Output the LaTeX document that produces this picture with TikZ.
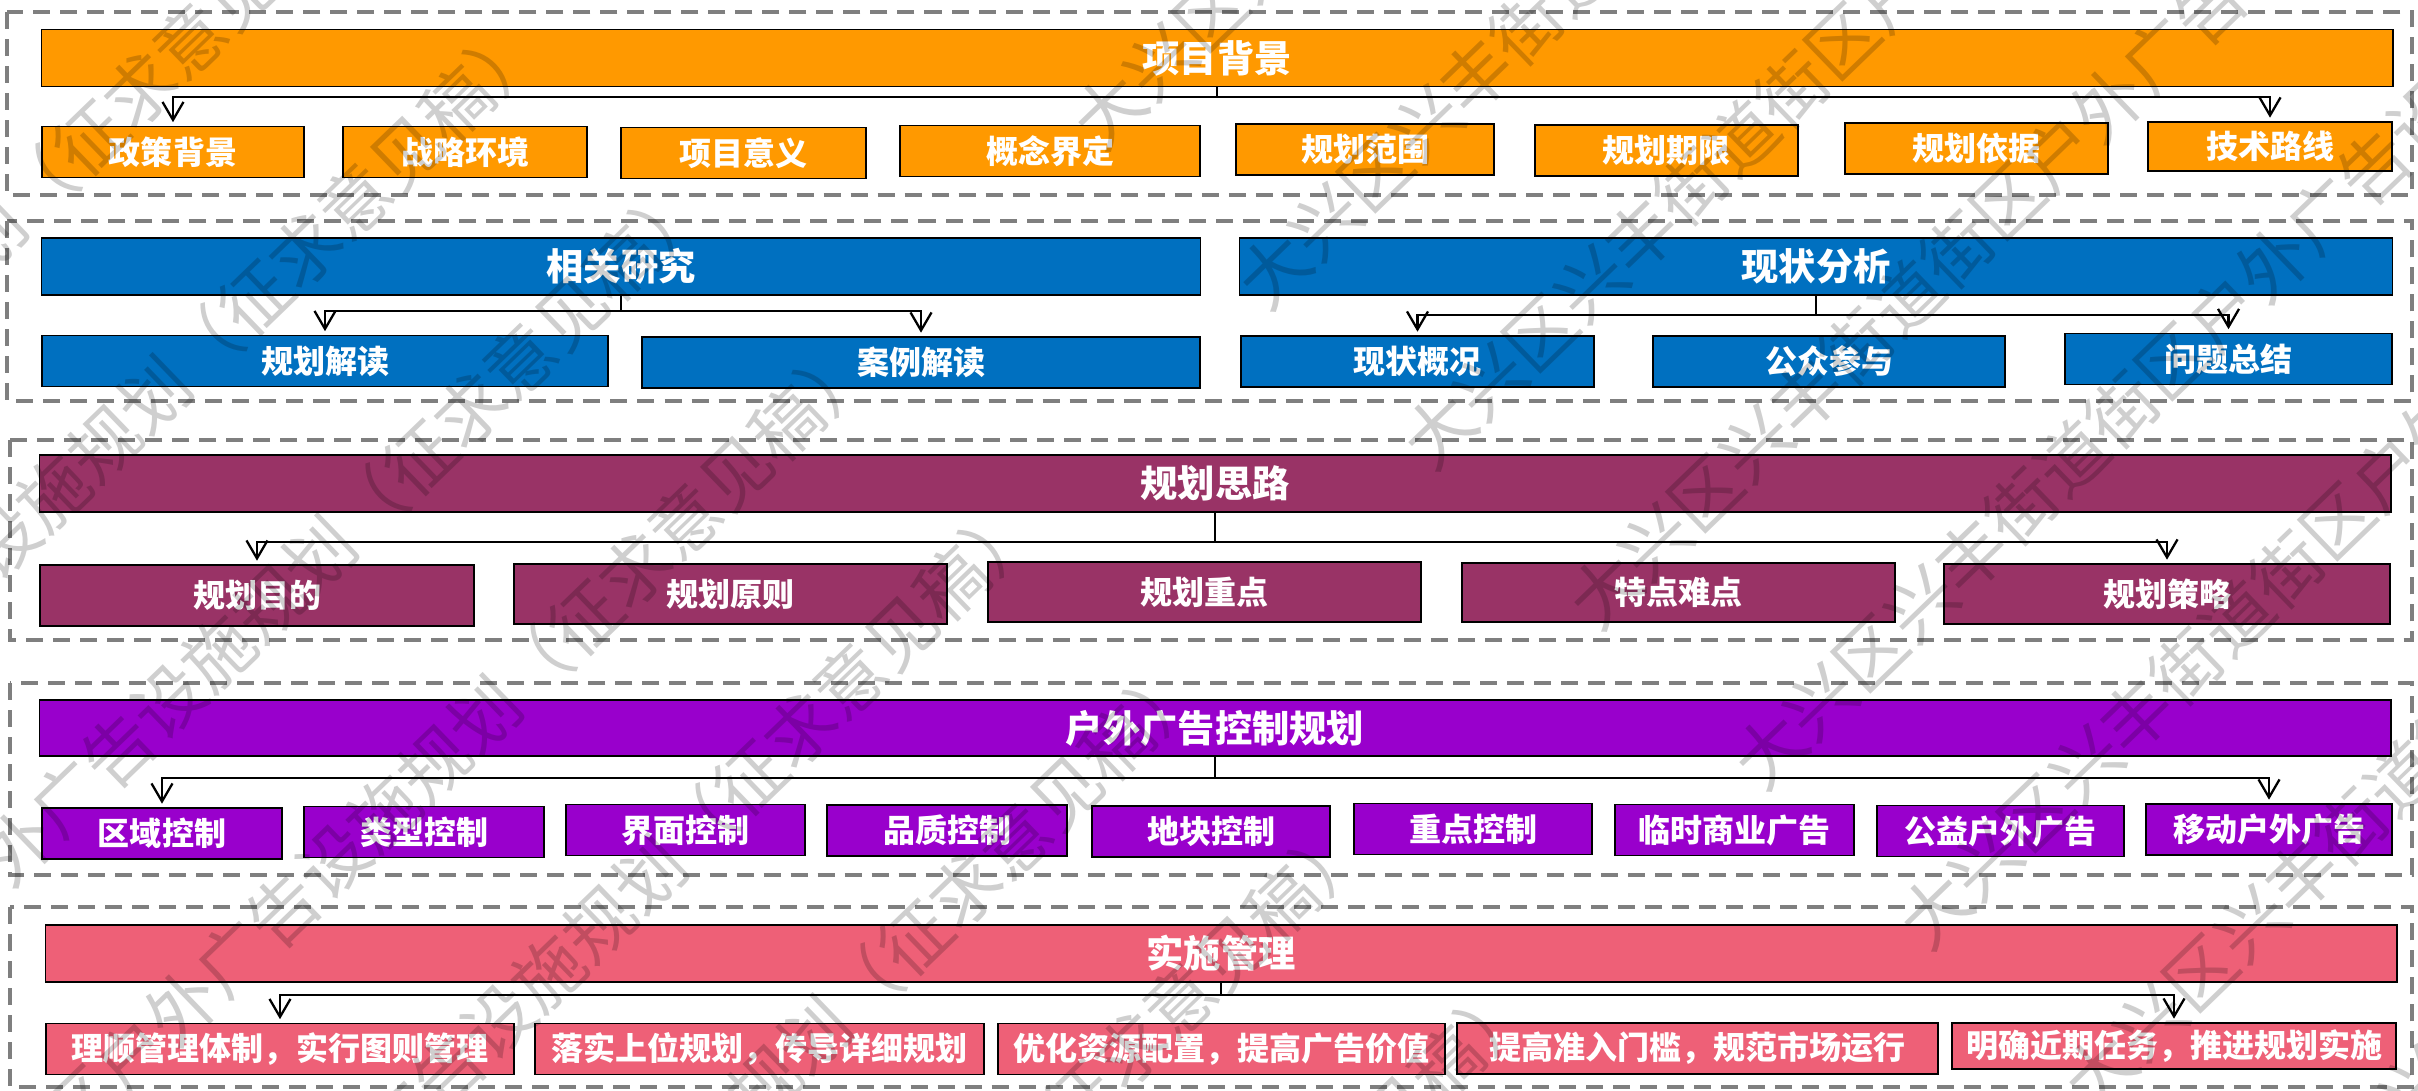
\documentclass[tikz,border=0pt]{standalone}
\usepackage{fontspec}
\setmainfont{Noto Sans CJK SC}
\usepackage{tikz}
\usetikzlibrary{positioning, calc, arrows.meta}

\definecolor{cOrange}{HTML}{FF9900}
\definecolor{cBlue}{HTML}{0070C0}
\definecolor{cRose}{HTML}{993366}
\definecolor{cViolet}{HTML}{9900CC}
\definecolor{cPink}{HTML}{EE6077}
\definecolor{cDash}{HTML}{7F7F7F}

\begin{document}
\begin{tikzpicture}[x=0.01cm, y=-0.01cm, >={Straight Barb[length=0.18cm, width=0.21cm]}, shorten >=1pt,
	blk/.style={draw=cDash, line width=1pt, dash pattern=on 0.17cm off 0.1cm},
	head/.style={draw=black, line width=0.45pt, fill=#1, text=white, inner sep=0pt, minimum width=23.5cm, minimum height=0.57cm, font=\bfseries\fontsize{10.6}{12}\selectfont},
	item/.style={draw=black, line width=0.45pt, fill=#1, text=white, inner sep=0pt, minimum height=0.51cm, font=\bfseries\fontsize{9.1}{11}\selectfont},
	link/.style={->, line width=0.65pt},
	wmark/.style={rotate=44, anchor=west, inner sep=0pt, text=black, text opacity=0.19, font=\fontsize{19.9}{20}\selectfont}
	]
	\useasboundingbox (0,0) rectangle (2418,1090);

	%Blocos tracejados
	\draw[blk] (7,12)   rectangle (2412,195);
	\draw[blk] (7,221)  rectangle (2412,401);
	\draw[blk] (10,440) rectangle (2412,640);
	\draw[blk] (10,683) rectangle (2412,875);
	\draw[blk] (10,907) rectangle (2412,1087);

	%项目背景
	\node[head=cOrange]                         (bg)  at (1217,58)     {项目背景};
	\node[item=cOrange, minimum width=2.62cm]   (c1)  at (173,152)     {政策背景};
	\node[item=cOrange, minimum width=2.44cm]   (c2)  at (465,152)     {战略环境};
	\node[item=cOrange, minimum width=2.45cm]   (c3)  at (743.5,153)   {项目意义};
	\node[item=cOrange, minimum width=3.00cm]   (c4)  at (1050,151)    {概念界定};
	\node[item=cOrange, minimum width=2.58cm]   (c5)  at (1365,149.5)  {规划范围};
	\node[item=cOrange, minimum width=2.63cm]   (c6)  at (1666.5,150.5){规划期限};
	\node[item=cOrange, minimum width=2.63cm]   (c7)  at (1976.5,148.5){规划依据};
	\node[item=cOrange, minimum width=2.44cm, minimum height=0.49cm] (c8) at (2270,146.5) {技术路线};
	\draw[link] (bg.south) -- ++(0,10) -| (c1.north);
	\draw[link] (bg.south) -- ++(0,10) -| (c8.north);

	%相关研究 / 现状分析
	\node[head=cBlue, minimum width=11.58cm]    (rs)  at (621,266.5)   {相关研究};
	\node[head=cBlue, minimum width=11.52cm]    (xz)  at (1816,266.5)  {现状分析};
	\node[item=cBlue, minimum width=5.66cm]     (rs1) at (325,361)     {规划解读};
	\node[item=cBlue, minimum width=5.58cm]     (rs2) at (921,362.5)   {案例解读};
	\node[item=cBlue, minimum width=3.53cm]     (xz1) at (1417.5,361.5){现状概况};
	\node[item=cBlue, minimum width=3.52cm]     (xz2) at (1829,361.5)  {公众参与};
	\node[item=cBlue, minimum width=3.27cm]     (xz3) at (2228.5,359)  {问题总结};
	\draw[link] (rs.south) -- ++(0,15) -| (rs1.north);
	\draw[link] (rs.south) -- ++(0,15) -| (rs2.north);
	\draw[link] (xz.south) -- ++(0,19) -| (xz1.north);
	\draw[link] (xz.south) -- ++(0,19) -| (xz3.north);

	%规划思路
	\node[head=cRose]                           (sl)  at (1215,483.5)  {规划思路};
	\node[item=cRose, minimum width=4.34cm, minimum height=0.61cm] (sl1) at (257,595.5)  {规划目的};
	\node[item=cRose, minimum width=4.33cm, minimum height=0.60cm] (sl2) at (730.5,594)  {规划原则};
	\node[item=cRose, minimum width=4.33cm, minimum height=0.60cm] (sl3) at (1204.5,592) {规划重点};
	\node[item=cRose, minimum width=4.33cm, minimum height=0.59cm] (sl4) at (1678.5,592.5){特点难点};
	\node[item=cRose, minimum width=4.46cm, minimum height=0.60cm] (sl5) at (2167,594)   {规划策略};
	\draw[link] (sl.south) -- ++(0,29) -| (sl1.north);
	\draw[link] (sl.south) -- ++(0,29) -| (sl5.north);

	%户外广告控制规划
	\node[head=cViolet, minimum height=0.56cm]  (kz)  at (1215,728)    {户外广告控制规划};
	\node[item=cViolet, minimum width=2.40cm]   (kz1) at (162,833.5)   {区域控制};
	\node[item=cViolet, minimum width=2.40cm]   (kz2) at (424,832)     {类型控制};
	\node[item=cViolet, minimum width=2.39cm]   (kz3) at (685.5,830)   {界面控制};
	\node[item=cViolet, minimum width=2.40cm]   (kz4) at (947,830.5)   {品质控制};
	\node[item=cViolet, minimum width=2.38cm]   (kz5) at (1211,831.5)  {地块控制};
	\node[item=cViolet, minimum width=2.38cm]   (kz6) at (1473,829)    {重点控制};
	\node[item=cViolet, minimum width=2.39cm]   (kz7) at (1734.5,830)  {临时商业广告};
	\node[item=cViolet, minimum width=2.47cm]   (kz8) at (2000.5,831)  {公益户外广告};
	\node[item=cViolet, minimum width=2.46cm]   (kz9) at (2269,829.5)  {移动户外广告};
	\draw[link] (kz.south) -- ++(0,21) -| (kz1.north);
	\draw[link] (kz.south) -- ++(0,21) -| (kz9.north);

	%实施管理
	\node[head=cPink]                           (ss)  at (1221,953.5)  {实施管理};
	\node[item=cPink, minimum width=4.68cm]     (ss1) at (280,1049)    {理顺管理体制，实行图则管理};
	\node[item=cPink, minimum width=4.49cm]     (ss2) at (759.5,1049)  {落实上位规划，传导详细规划};
	\node[item=cPink, minimum width=4.47cm]     (ss3) at (1221.5,1049) {优化资源配置，提高广告价值};
	\node[item=cPink, minimum width=4.81cm]     (ss4) at (1697.5,1048.5){提高准入门槛，规范市场运行};
	\node[item=cPink, minimum width=4.44cm, minimum height=0.46cm] (ss5) at (2174,1046) {明确近期任务，推进规划实施};
	\draw[link] (ss.south) -- ++(0,12) -| (ss1.north);
	\draw[link] (ss.south) -- ++(0,12) -| (ss5.north);

	%Marca d'agua
	\begin{scope}
		\clip (0,0) rectangle (2418,1090);
		\foreach \k in {-5,...,6}
			\foreach \m in {-1,0}
				\node[wmark] (w\k\m) at ({1249+165*\k+1431*\m},{295+160*\k-1383*\m}) {大兴区兴丰街道街区户外广告设施规划（征求意见稿）};
	\end{scope}
\end{tikzpicture}
\end{document}
